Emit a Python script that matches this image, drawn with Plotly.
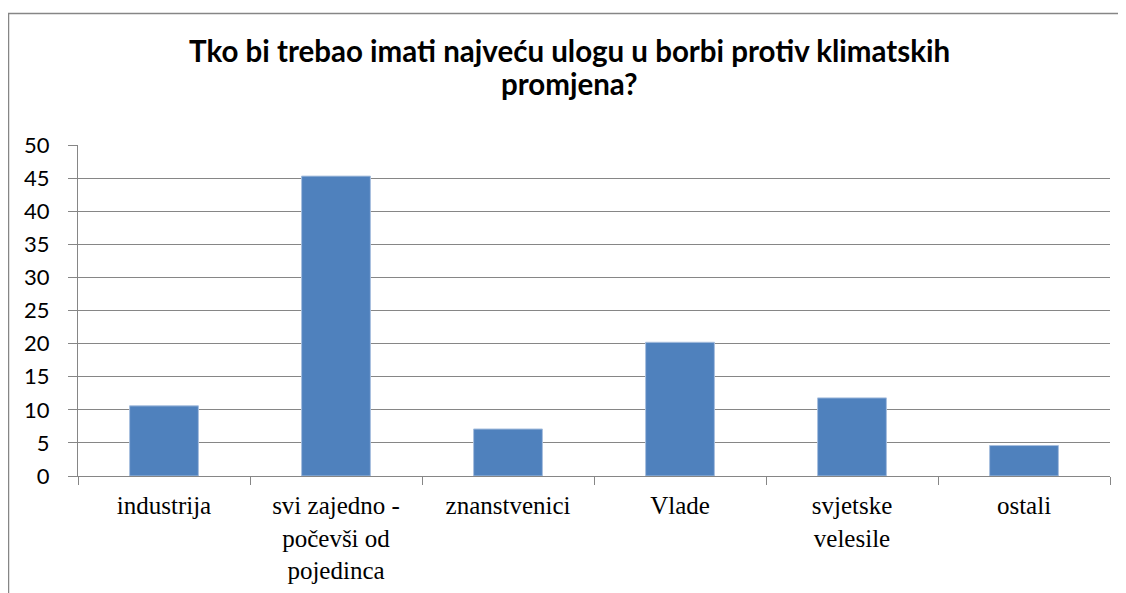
import plotly.graph_objects as go

categories = ["industrija", "svi zajedno -<br>počevši od<br>pojedinca", "znanstvenici",
              "Vlade", "svjetske<br>velesile", "ostali"]
values = [10.6, 45.3, 7.1, 20.2, 11.8, 4.6]
y_ticks = [0, 5, 10, 15, 20, 25, 30, 35, 40, 45, 50]
title_lines = ["Tko bi trebao imati najveću ulogu u borbi protiv klimatskih", "promjena?"]

# page body has an 8px margin, so work in figure coordinates
W, H = 1118, 585
L, R, T, B = 70, 16, 136.5, 117.3
pw, ph = W - L - R, H - T - B

SERIF = "Liberation Serif"


def px_x(x):
    return (x - L) / pw


def px_y(y):
    return (H - B - y) / ph


fig = go.Figure()
fig.add_trace(go.Bar(
    x=categories, y=values, width=0.4,
    marker=dict(color="#4F81BD", line=dict(color="#A7BFDE", width=1)),
))

fig.update_layout(
    width=W, height=H,
    margin=dict(l=L, r=R, t=T, b=B, pad=0, autoexpand=False),
    paper_bgcolor="white", plot_bgcolor="white",
    showlegend=False,
    font=dict(family=SERIF, color="black"),
    xaxis=dict(
        type="category", tickson="boundaries", ticks="outside", ticklen=8,
        tickcolor="#868686", tickwidth=1,
        showline=True, linecolor="#868686", linewidth=1,
        showgrid=False, automargin=False,
        tickfont=dict(family=SERIF, size=25, color="black"),
        ticklabelstandoff=7,
    ),
    yaxis=dict(
        range=[0, 50], tickvals=y_ticks, ticktext=[str(v) for v in y_ticks],
        ticks="outside", ticklen=9, tickcolor="#868686", tickwidth=1,
        showline=True, linecolor="#868686", linewidth=1,
        showgrid=True, gridcolor="#868686", gridwidth=1,
        zeroline=False, automargin=False,
        tickfont=dict(family="Lato", size=22, color="black"),
        ticklabelstandoff=14,
    ),
)

# title, one annotation per line to match line spacing
for text, yc in zip(title_lines, [42, 75]):
    fig.add_annotation(
        text=text, xref="paper", yref="paper",
        x=px_x(561), y=px_y(yc), xanchor="center", yanchor="middle",
        showarrow=False,
        font=dict(family="Lato", size=29.5, color="black", weight="bold"),
    )

# chart-area border (outer frame)
fig.add_shape(type="rect", xref="paper", yref="paper",
              x0=px_x(0.5), x1=px_x(1140),
              y0=px_y(H + 20), y1=px_y(5),
              line=dict(color="#868686", width=1.5), fillcolor="rgba(0,0,0,0)", layer="below")

fig.write_html("out.html")
